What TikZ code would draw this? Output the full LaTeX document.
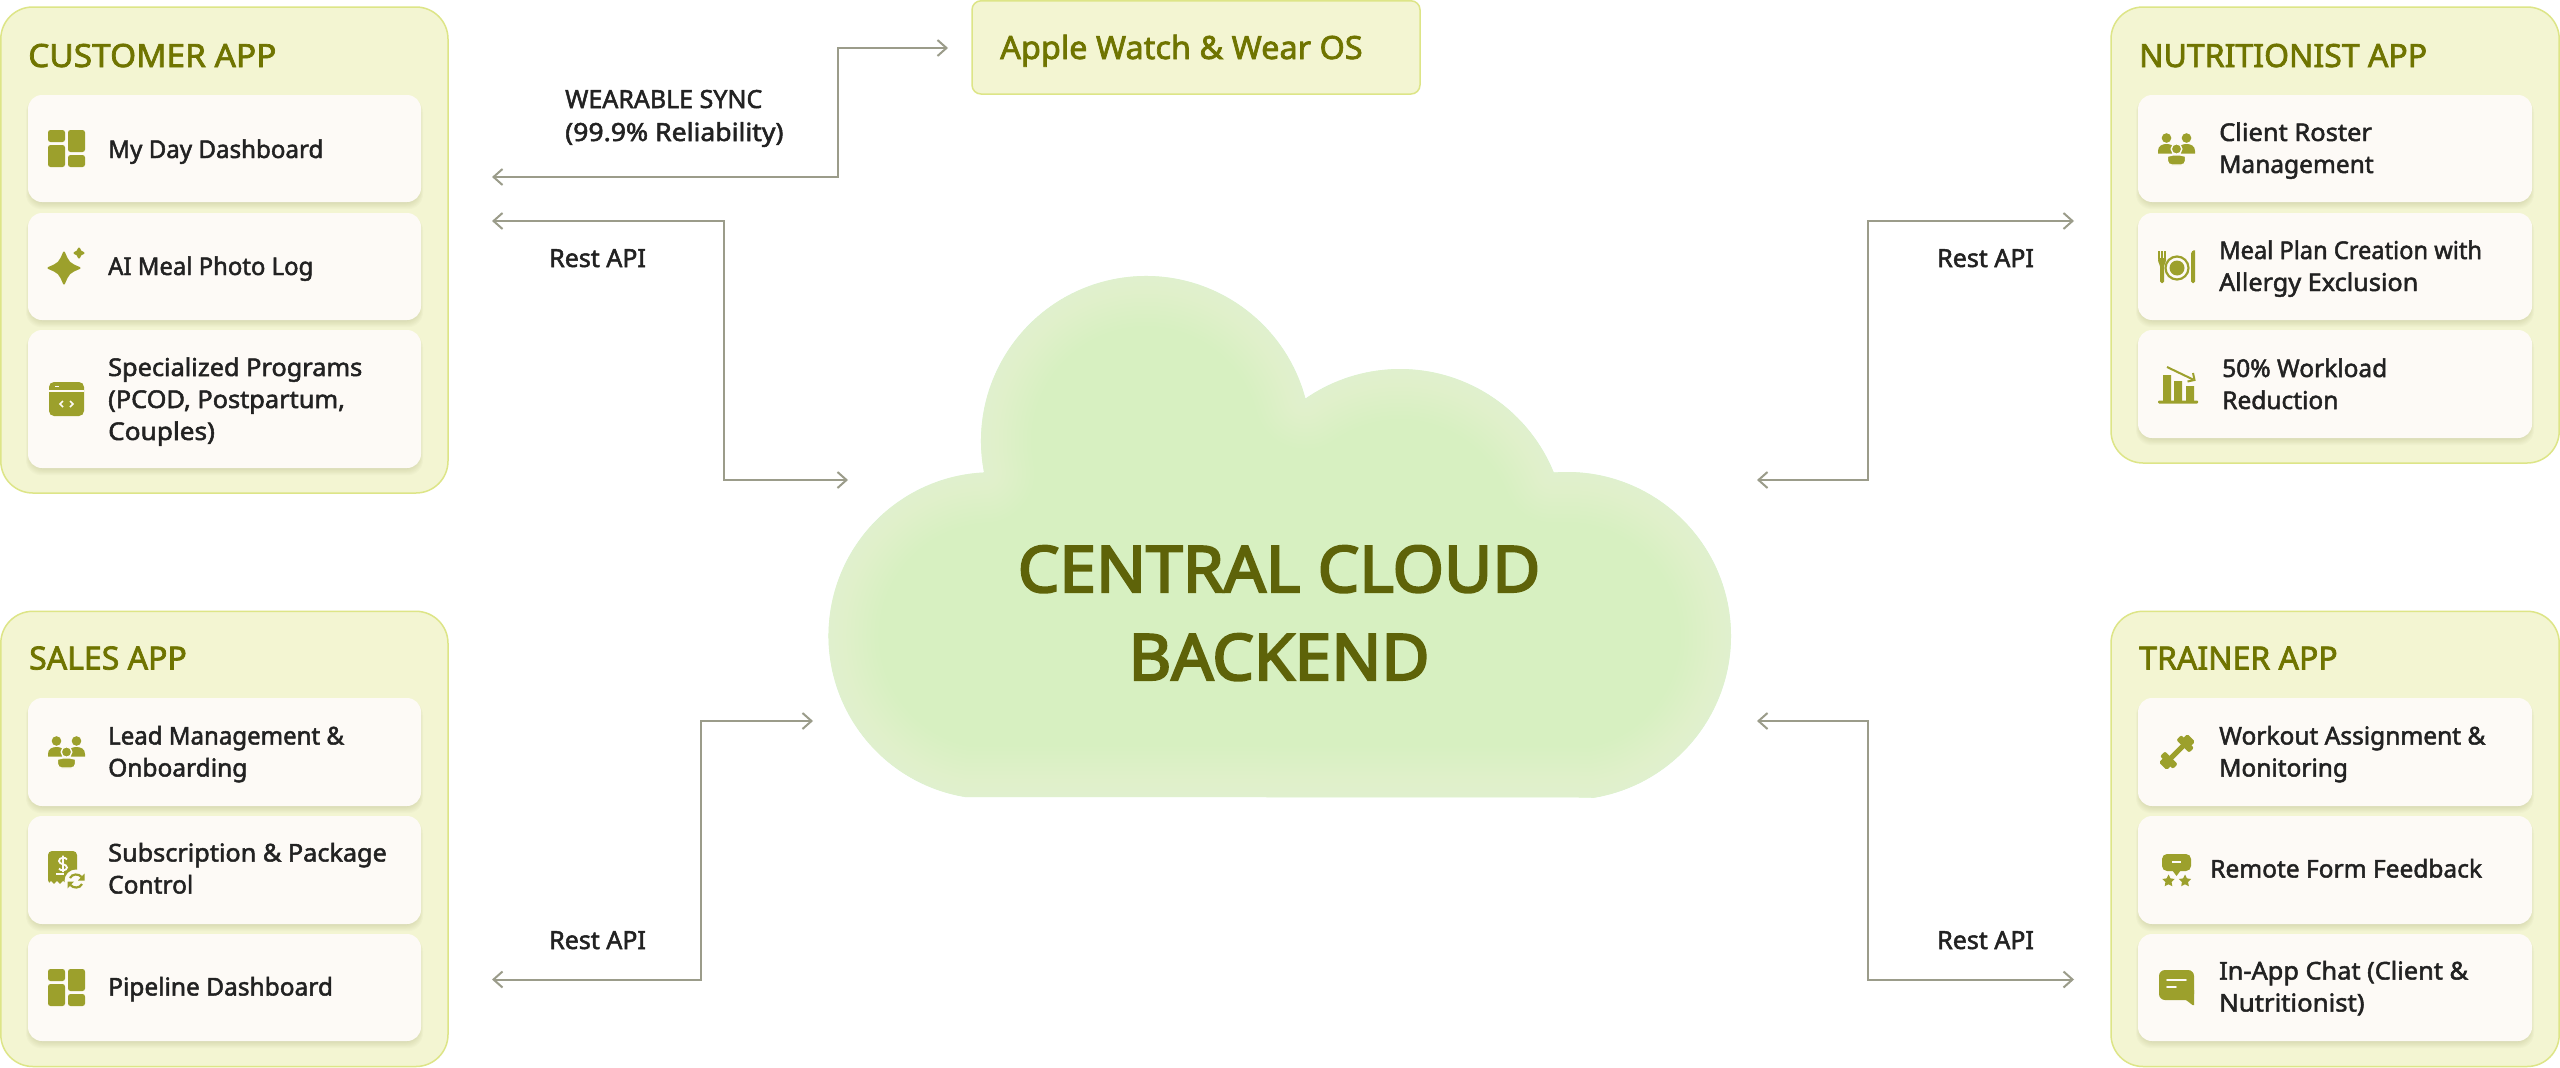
\documentclass[tikz,border=0pt]{standalone}
\usepackage{fontspec}
\usepackage{graphicx}
\usetikzlibrary{arrows.meta}
\newfontfamily\bodyf{Noto Sans}[FakeBold=2.0]
\newfontfamily\headf{Noto Sans}[FakeBold=2.2]
\newfontfamily\headwide{Noto Sans}[FakeBold=2.2,FakeStretch=1.045]
\newfontfamily\cloudf{Noto Sans}[FakeBold=3.4,FakeStretch=1.03]
\newcommand\sx[2]{\scalebox{#1}[1]{#2}}
\definecolor{panelfill}{HTML}{F3F5D2}
\definecolor{panelline}{HTML}{DDE587}
\definecolor{cardfill}{HTML}{FDFAF6}
\definecolor{ico}{HTML}{9CA02C}
\definecolor{titlecol}{HTML}{6F7400}
\definecolor{inkcol}{HTML}{222222}
\definecolor{conncol}{HTML}{9B9C8A}
\definecolor{cloudcore}{HTML}{D7F0C1}
\definecolor{cloudtext}{HTML}{5E6309}
\tikzset{
  panelbox/.style={draw=panelline,line width=1.5pt,fill=panelfill,rounded corners=32pt,inner sep=0pt,outer sep=0pt},
  watchbox/.style={draw=panelline,line width=1.5pt,fill=panelfill,rounded corners=9pt,inner sep=0pt,outer sep=0pt},
  cardbox/.style={fill=cardfill,rounded corners=14pt,inner sep=0pt,outer sep=0pt},
  apptitle/.style={anchor=base west,inner sep=0pt,text=titlecol,font=\headf\fontsize{32}{38}\selectfont},
  bodytext/.style={anchor=base west,inner sep=0pt,align=left,text=inkcol,font=\bodyf\fontsize{24.5}{32}\selectfont},
  linklabel/.style={anchor=base west,inner sep=0pt,align=left,text=inkcol,font=\bodyf\fontsize{25}{33}\selectfont},
  conn/.style={draw=conncol,line width=2pt,{Straight Barb[length=9pt,width=16pt]}-{Straight Barb[length=9pt,width=16pt]}},
}
\newcommand\panelat[6][panelbox]{%
  \pgfmathsetmacro\pw{#5-#3}\pgfmathsetmacro\ph{#6-#4}%
  \pgfmathsetmacro\pcx{(#5+#3)/2}\pgfmathsetmacro\pcy{(#6+#4)/2}%
  \node[#1,minimum width=\pw pt,minimum height=\ph pt] (#2) at (\pcx,\pcy) {};}
\newcommand\cardat[5]{%
  \pgfmathsetmacro\pw{#4-#2}\pgfmathsetmacro\ph{#5-#3}%
  \pgfmathsetmacro\pcx{(#4+#2)/2}\pgfmathsetmacro\pcy{(#5+#3)/2}%
  \foreach \k in {1,...,8}{\fill[black!55!titlecol,opacity=.016,rounded corners=15pt]
     (#2-\k*0.5+2,#3+2) rectangle (#4+\k*0.5-2,#5+\k*0.9);}
  \node[cardbox,minimum width=\pw pt,minimum height=\ph pt] (#1) at (\pcx,\pcy) {};}
% ---- icons, drawn from their top-left corner
\newcommand\icondash[2]{\begin{scope}[shift={(#1,#2)}]
  \fill[ico,rounded corners=2.5pt] (0,0) rectangle (17,12) (0,15) rectangle (17,37) (20,0) rectangle (37,22) (20,25) rectangle (37,37);
\end{scope}}
\newcommand\iconpeople[2]{\begin{scope}[shift={(#1,#2)}]
  \fill[ico] (8.5,5) circle (4.8) (28.5,5) circle (4.8);
  \fill[ico] (0,20.5) -- (0,18) .. controls (0,13) and (4,11) .. (8.5,11) .. controls (13,11) and (16,13) .. (18,16) -- (14,20.5) -- cycle;
  \fill[ico] (37,20.5) -- (37,18) .. controls (37,13) and (33,11) .. (28.5,11) .. controls (24,11) and (21,13) .. (19,16) -- (23,20.5) -- cycle;
  \filldraw[ico,draw=cardfill,line width=1.4pt] (18.5,16) circle (5.3);
  \filldraw[ico,draw=cardfill,line width=1.4pt,rounded corners=4pt] (9.5,32) -- (9.5,27) .. controls (9.5,23.5) and (13,22) .. (18.5,22) .. controls (24,22) and (27.5,23.5) .. (27.5,27) -- (27.5,32) -- cycle;
\end{scope}}
\newcommand\sparkle[3]{\fill[ico,draw=ico,line width=2pt,line join=round] (#1,#2-#3) .. controls (#1+.3*#3,#2-.3*#3) .. (#1+#3,#2) .. controls (#1+.3*#3,#2+.3*#3) .. (#1,#2+#3) .. controls (#1-.3*#3,#2+.3*#3) .. (#1-#3,#2) .. controls (#1-.3*#3,#2-.3*#3) .. cycle;}
\newcommand\starat[3]{\fill[ico,line join=round] ([shift={(#1,#2)}]270:#3) \foreach \a in {1,...,9}{ -- ([shift={(#1,#2)}]{270+36*\a}:{#3*(mod(\a,2)==0?1:0.5)})} -- cycle;}
% ---- the cloud outline
\def\cloudpath{(965,797) arc[start angle=99.5,end angle=267,radius=163.5]
  -- ([shift={(1146,441)}]169:165) arc[start angle=169,end angle=344.9,radius=165]
  -- ([shift={(1400,535)}]235.3:166) arc[start angle=235.3,end angle=337.8,radius=166]
  -- ([shift={(1567,636)}]266:164) arc[start angle=266,end angle=441,radius=164]
  -- (1590,797.5) -- cycle}
\begin{document}
\begin{tikzpicture}[x=1pt,y=1pt,yscale=-1]
\useasboundingbox (0,0) rectangle (2560,1068);
\fill[white] (0,0) rectangle (2560,1068);

% ---- cloud
\fill[cloudcore] \cloudpath;
\begin{scope}
  \clip \cloudpath;
  \foreach \w in {100,92,...,4}{\draw[white,opacity=.03,line width=\w pt,line join=round] \cloudpath;}
\end{scope}
\node[inner sep=0pt,anchor=base,text=cloudtext,align=center,font=\cloudf\fontsize{64}{88}\selectfont] (cloudlabel) at (1279,680) {CENTRAL CLOUD\\BACKEND};

% ---- panels
\panelat{customer}{0.8}{7}{448}{493}
\panelat{sales}{0.8}{611.3}{448}{1066.5}
\panelat{nutri}{2111}{7}{2559.2}{463}
\panelat{trainer}{2111}{611.3}{2559.2}{1066.5}
\panelat[watchbox]{watch}{972}{0.8}{1420}{94}
\node[apptitle,font=\headwide\fontsize{32}{38}\selectfont] (tcustomer) at (28,67) {CUSTOMER APP};
\node[apptitle] (tsales) at (29,669.5) {SALES APP};
\node[apptitle] (tnutri) at (2139,67) {NUTRITIONIST APP};
\node[apptitle] (ttrainer) at (2139,669.5) {TRAINER APP};
\node[apptitle] (twatch) at (1000,59) {\sx{1.014}{Apple Watch \& Wear OS}};

% ---- cards
\cardat{c1}{28}{95}{421}{202}
\cardat{c2}{28}{213}{421}{320}
\cardat{c3}{28}{330}{421}{468}
\cardat{s1}{28}{698}{421}{806}
\cardat{s2}{28}{816}{421}{924}
\cardat{s3}{28}{934}{421}{1041}
\cardat{n1}{2138}{95}{2532}{202}
\cardat{n2}{2138}{213}{2532}{320}
\cardat{n3}{2138}{330}{2532}{438}
\cardat{t1}{2138}{698}{2532}{806}
\cardat{t2}{2138}{816}{2532}{924}
\cardat{t3}{2138}{934}{2532}{1041}

% ---- card texts
\node[bodytext] (lc1) at (108,158) {\sx{.985}{My Day Dashboard}};
\node[bodytext] (lc2) at (108,275) {\sx{.975}{AI Meal Photo Log}};
\node[bodytext] (lc3) at (108,440) {\sx{1.033}{Specialized Programs}\\\sx{1.035}{(PCOD, Postpartum,}\\\sx{1.07}{Couples)}};
\node[bodytext] (ls1) at (108,776.5) {\sx{.98}{Lead Management \&}\\Onboarding};
\node[bodytext] (ls2) at (108,893.5) {\sx{1.03}{Subscription \& Package}\\Control};
\node[bodytext] (ls3) at (108,995.5) {Pipeline Dashboard};
\node[bodytext] (ln1) at (2219,173) {\sx{1.04}{Client Roster}\\Management};
\node[bodytext] (ln2) at (2219,291) {\sx{.964}{Meal Plan Creation with}\\\sx{1.03}{Allergy Exclusion}};
\node[bodytext] (ln3) at (2222,409) {50\% Workload\\Reduction};
\node[bodytext] (lt1) at (2219,776.5) {Workout Assignment \&\\Monitoring};
\node[bodytext] (lt2) at (2210,877.5) {Remote Form Feedback};
\node[bodytext] (lt3) at (2219,1011.5) {\sx{1.034}{In-App Chat (Client \&}\\\sx{1.05}{Nutritionist)}};

% ---- icons
\icondash{48}{130}
\sparkle{64}{268}{15.5}
\sparkle{79}{253}{4.5}
\begin{scope}[shift={(49,382)}]
  \fill[ico,rounded corners=5pt] (0,0) rectangle (35,34);
  \draw[cardfill,line width=1.3pt] (0,9) -- (35,9);
  \draw[cardfill,line width=1.5pt] (6,4.5) -- (10,4.5);
  \draw[cardfill,line width=1.5pt] (14,19) -- (11,22) -- (14,25) (21,19) -- (24,22) -- (21,25);
\end{scope}
\iconpeople{48}{736}
\begin{scope}[shift={(48,851)}]
  \fill[ico,rounded corners=4pt] (0,33) -- (0,0) -- (29,0) -- (29,30) -- (22,33) -- cycle;
  \fill[cardfill] (0,33) -- (3,30) -- (6,33) -- (9,30) -- (12,33) -- (15,30) -- (20,34) -- (0,35) -- cycle;
  \draw[cardfill,line width=1.8pt] (19,8.5) .. controls (18,6) and (11,6) .. (11,10) .. controls (11,14) and (19,12.5) .. (19,16.5) .. controls (19,20) and (12,20) .. (11,17.5) (15,4.5) -- (15,21);
  \draw[cardfill,line width=1.6pt] (8,23) -- (16,23);
  \fill[cardfill] (28,30) circle (11.5);
  \draw[ico,line width=2.2pt] (22,27) .. controls (24,22.5) and (31,22.5) .. (33.5,26);
  \draw[ico,line width=2.2pt] (34,33) .. controls (32,37.5) and (25,37.5) .. (22.5,34);
  \fill[ico] (36.5,22.5) -- (36.5,29.5) -- (30,29.5) -- cycle (19.5,37.5) -- (19.5,30.5) -- (26,30.5) -- cycle;
\end{scope}
\icondash{48}{969}
\iconpeople{2158}{133}
\begin{scope}[shift={(2158,250)}]
  % fork
  \draw[ico,line width=1.5pt] (0.8,1) -- (0.8,9) (4,1) -- (4,9) (7.2,1) -- (7.2,9);
  \fill[ico,rounded corners=1.5pt] (0,8) -- (8,8) -- (8,12) -- (6,15) -- (6,33) -- (2,33) -- (2,15) -- (0,12) -- cycle;
  % plate
  \draw[ico,line width=2.2pt] (19,18) circle (11.5);
  \fill[ico] (19,18) circle (7.5);
  % knife
  \fill[ico,rounded corners=1.5pt] (33,33) -- (33,2) -- (36,0) -- (37,0) -- (37,33) -- cycle;
\end{scope}
\begin{scope}[shift={(2158,365)}]
  \fill[ico] (5,10) rectangle (13,37) (16,16) rectangle (24,37) (28,21) rectangle (36,37);
  \fill[ico,rounded corners=1pt] (0,35.5) rectangle (40,38.5);
  \draw[ico,line width=2pt] (9,2) -- (35,14.5);
  \draw[ico,line width=2pt] (35,8) -- (36.5,15) -- (29.5,16.5);
\end{scope}
\begin{scope}[shift={(2177,752)},rotate=-45]
  \fill[ico,rounded corners=1.5pt] (-11,-2.5) rectangle (11,2.5);
  \fill[ico,rounded corners=2pt] (-15,-9) rectangle (-8,9) (8,-9) rectangle (15,9);
  \fill[ico,rounded corners=1.5pt] (-20,-5.5) rectangle (-13,5.5) (13,-5.5) rectangle (20,5.5);
\end{scope}
\begin{scope}[shift={(2162,854)}]
  \fill[ico,rounded corners=5pt] (0,0) rectangle (29,17);
  \fill[ico] (10,16) -- (14.5,22) -- (19,16) -- cycle;
  \draw[cardfill,line width=1.6pt] (10,8) -- (19,8);
\end{scope}
\starat{2168.5}{881}{6.5}
\starat{2185}{881}{6.5}
\begin{scope}[shift={(2159,970)}]
  \fill[ico,rounded corners=6pt] (0,0) rectangle (35,30);
  \fill[ico] (22,28) -- (35,20) -- (35,35) -- (33.5,35) -- (27,30) -- cycle;
  \draw[cardfill,line width=1.7pt,line cap=round] (8,10) -- (27,10) (8,17) -- (17,17);
\end{scope}

% ---- connector labels
\node[linklabel] (lwear) at (565,141) {WEARABLE SYNC\\\sx{1.065}{(99.9\% Reliability)}};
\node[linklabel] (lrc) at (549,267) {Rest API};
\node[linklabel] (lrs) at (549,949) {Rest API};
\node[linklabel] (lrn) at (1937,267) {Rest API};
\node[linklabel] (lrt) at (1937,949) {Rest API};

% ---- connector ends
\coordinate (wa) at (492,177); \coordinate (wm) at (838,100); \coordinate (wb) at (948,48);
\coordinate (ca) at (492,221); \coordinate (cm) at (724,350); \coordinate (cb) at (848,480);
\coordinate (sa) at (492,979.5); \coordinate (sm) at (700.5,850); \coordinate (sb) at (813,721);
\coordinate (na) at (2074,221); \coordinate (nm) at (1868,350); \coordinate (nb) at (1757,480);
\coordinate (ta) at (2074,979.5); \coordinate (tm) at (1868,850); \coordinate (tb) at (1757,721);
\draw[conn] (wa) -| (wm) |- (wb);
\draw[conn] (ca) -| (cm) |- (cb);
\draw[conn] (sa) -| (sm) |- (sb);
\draw[conn] (na) -| (nm) |- (nb);
\draw[conn] (ta) -| (tm) |- (tb);
\end{tikzpicture}
\end{document}
